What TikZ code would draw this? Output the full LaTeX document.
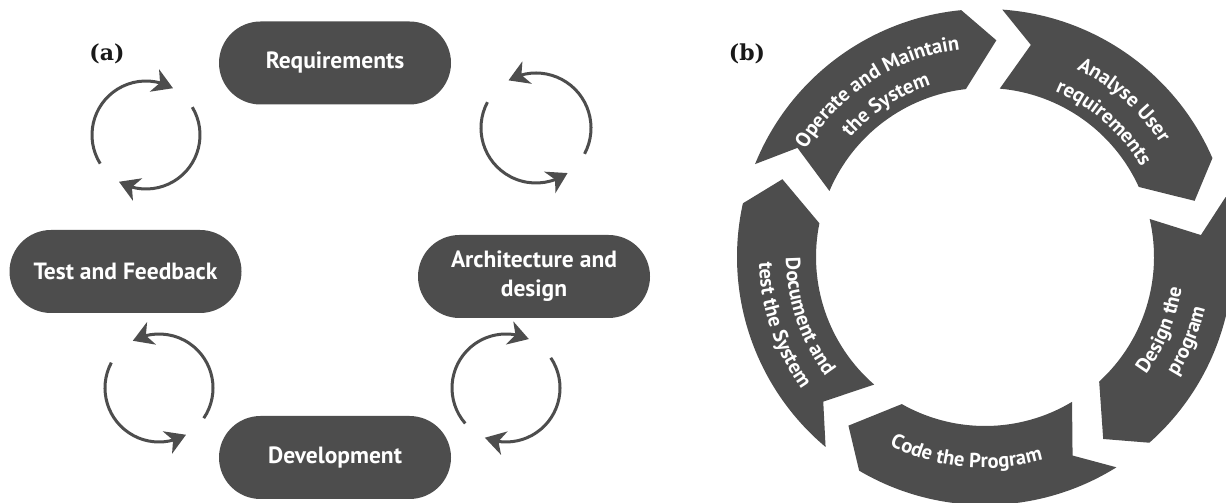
\documentclass[tikz,border=0pt]{standalone}
\usepackage{fontspec}
\setmainfont{PT Sans}
\newfontfamily\labelfont{DejaVu Serif}
\usetikzlibrary{arrows.meta,bending,calc,decorations.text}
\definecolor{ink}{RGB}{77,77,77}

\newcommand\pillfont{\bfseries\fontsize{23.5}{29}\selectfont}
\newcommand\ringfont{\bfseries\fontsize{20.5}{24}\selectfont}

% one arrow-shaped ring segment, tail at angle #1, pointing clockwise
\newcommand\ringseg[1]{%
  \pgfmathsetmacro\rsTo{#1}%
  \pgfmathsetmacro\rsTi{#1-1}%
  \pgfmathsetmacro\rsHo{#1-62.5}%
  \pgfmathsetmacro\rsHi{#1-61.5}%
  \pgfmathsetmacro\rsTip{#1-71}%
  \pgfmathsetmacro\rsNotch{#1-8.2}%
  \fill[ink] (\rsTo:248) arc[start angle=\rsTo, end angle=\rsHo, radius=248]
    -- (\rsTip:217) -- (\rsHi:169)
    arc[start angle=\rsHi, end angle=\rsTi, radius=169]
    -- (\rsNotch:217) -- cycle;}

% a line of text bent along the ring: upper half reads clockwise
\newcommand\toptext[3]{%
  \path[decorate, decoration={text along path, text align=center,
    text color=white, text={|\ringfont|#3}}]
    (#1+40:#2) arc[start angle=#1+40, end angle=#1-40, radius=#2];}
% lower half reads counter-clockwise
\newcommand\bottext[3]{%
  \path[decorate, decoration={text along path, text align=center,
    text color=white, text={|\ringfont|#3}}]
    (#1-40:#2) arc[start angle=#1-40, end angle=#1+40, radius=#2];}

\tikzset{
  pill/.style={fill=ink, rounded corners=41.5pt, minimum width=232pt,
    minimum height=83pt, inner sep=0pt, text=white, font=\pillfont, align=center},
  cyc/.style={draw=ink, line width=3pt,
    -{Stealth[length=20pt, width=24pt, inset=6pt, flex]}},
  panel/.style={font=\labelfont\bfseries\fontsize{22}{24}\selectfont, text=black!90}
}

\begin{document}
\begin{tikzpicture}[x=1pt, y=1pt]
\useasboundingbox (0,0) rectangle (1226,503);
\fill[white] (0,0) rectangle (1226,503);

% ---------- (a) development cycle ----------
\node[panel] (la) at (107,449) {(a)};

\node[pill] (req)  at (335,440)   {Requirements};
\node[pill] (arch) at (534,226.5) {Architecture and\\design};
\node[pill] (dev)  at (335,45.5)  {Development};
\node[pill] (test) at (125.5,231.5) {Test and Feedback};

\coordinate (c1) at (146,368);
\coordinate (c2) at (536,375);
\coordinate (c3) at (506,115);
\coordinate (c4) at (159,115);

\draw[cyc] ($(c1)+(212:54)$) arc[start angle=212, end angle=60,   radius=54];
\draw[cyc] ($(c1)+(31:54)$)  arc[start angle=31,  end angle=-120, radius=54];

\draw[cyc] ($(c2)+(152:55)$) arc[start angle=152, end angle=305, radius=55];
\draw[cyc] ($(c2)+(-28:55)$) arc[start angle=-28, end angle=120, radius=55];

\draw[cyc] ($(c3)+(221:54)$) arc[start angle=221, end angle=65,   radius=54];
\draw[cyc] ($(c3)+(34:54)$)  arc[start angle=34,  end angle=-113, radius=54];

\draw[cyc] ($(c4)+(152:54)$) arc[start angle=152, end angle=300, radius=54];
\draw[cyc] ($(c4)+(-34:54)$) arc[start angle=-34, end angle=119, radius=54];

% ---------- (b) program life cycle ring ----------
\node[panel] (lb) at (747,449) {(b)};

\begin{scope}[shift={(985,246)}]
  \ringseg{158}
  \ringseg{86}
  \ringseg{14}
  \ringseg{-58}
  \ringseg{-130}

  \toptext{123}{209}{Operate and Maintain}
  \toptext{123}{180}{the System}
  \toptext{48.5}{209}{Analyse User}
  \toptext{48.5}{180}{requirements}
  \bottext{-22.5}{199}{Design the}
  \bottext{-22.5}{226}{program}
  \bottext{-95.5}{211}{Code the Program}
  \bottext{-161.5}{199}{Document and}
  \bottext{-161.5}{226}{test the System}
\end{scope}
\end{tikzpicture}
\end{document}
